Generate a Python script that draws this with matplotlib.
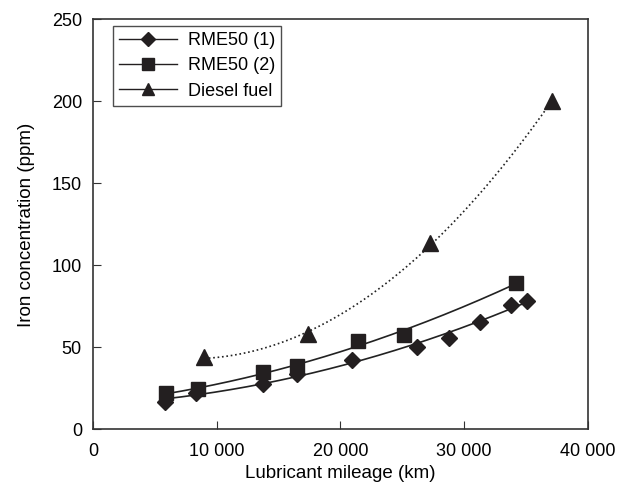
import matplotlib.pyplot as plt
import numpy as np
from matplotlib.ticker import FuncFormatter

plt.rcParams["font.family"] = ["Liberation Sans", "DejaVu Sans"]

# RME50 (1)
rme1_km = [5800, 8300, 13700, 16500, 20900, 26200, 28800, 31300, 33800, 35100]
rme1_ppm = [17, 22, 28, 34, 42.5, 50.5, 56, 65.5, 76, 78.5]

# RME50 (2)
rme2_km = [5900, 8500, 13700, 16500, 21400, 25100, 34200]
rme2_ppm = [22, 24.5, 35, 38.5, 54, 57.5, 89.5]

# Diesel fuel
diesel_km = [9000, 17400, 27200, 37100]
diesel_ppm = [44, 58, 113.5, 200]


def trend(x, y):
    """Quadratic trendline through the points, from the first to the last one."""
    x = np.asarray(x, dtype=float)
    coef = np.polyfit(x, y, 2)
    xs = np.linspace(x.min(), x.max(), 200)
    return xs, np.polyval(coef, xs)


fig = plt.figure(figsize=(6.34, 4.91), dpi=100)
ax = fig.add_axes([0.1467, 0.1253, 0.7807, 0.835])

series = [
    (rme1_km, rme1_ppm, "D", 8, "-", "RME50 (1)"),
    (rme2_km, rme2_ppm, "s", 10, "-", "RME50 (2)"),
    (diesel_km, diesel_ppm, "^", 11, ":", "Diesel fuel"),
]
for km, ppm, marker, ms, ls, label in series:
    xs, ys = trend(km, ppm)
    ax.plot(xs, ys, color="#222222", lw=1.2, ls=ls, zorder=2)
    ax.plot(km, ppm, ls="none", marker=marker, ms=ms, color="#231f20", zorder=3)
    # legend proxy: solid line with marker
    ax.plot([], [], color="#231f20", lw=1, marker=marker, ms=ms * 0.85, label=label)

ax.set_xlim(0, 40000)
ax.set_ylim(0, 250)
ax.set_xticks([0, 10000, 20000, 30000, 40000])
ax.set_yticks([0, 50, 100, 150, 200, 250])
ax.xaxis.set_major_formatter(FuncFormatter(lambda v, p: f"{int(v):,}".replace(",", " ")))
ax.tick_params(direction="in", length=6, labelsize=13, color="#333333")
ax.tick_params(axis="x", pad=10)
ax.tick_params(axis="y", pad=8)
for s in ax.spines.values():
    s.set_color("#333333")
    s.set_linewidth(1.2)

ax.set_xlabel("Lubricant mileage (km)", fontsize=13.5, labelpad=3)
ax.set_ylabel("Iron concentration (ppm)", fontsize=13.5, labelpad=12)

leg = ax.legend(loc="upper left", bbox_to_anchor=(0.04, 0.984), fontsize=13,
                frameon=True, fancybox=False, handlelength=3.2, borderpad=0.35,
                labelspacing=0.45, handletextpad=0.6, borderaxespad=0)
leg.get_frame().set_edgecolor("#222222")
leg.get_frame().set_linewidth(1.0)

fig.savefig("out.png", dpi=100)
